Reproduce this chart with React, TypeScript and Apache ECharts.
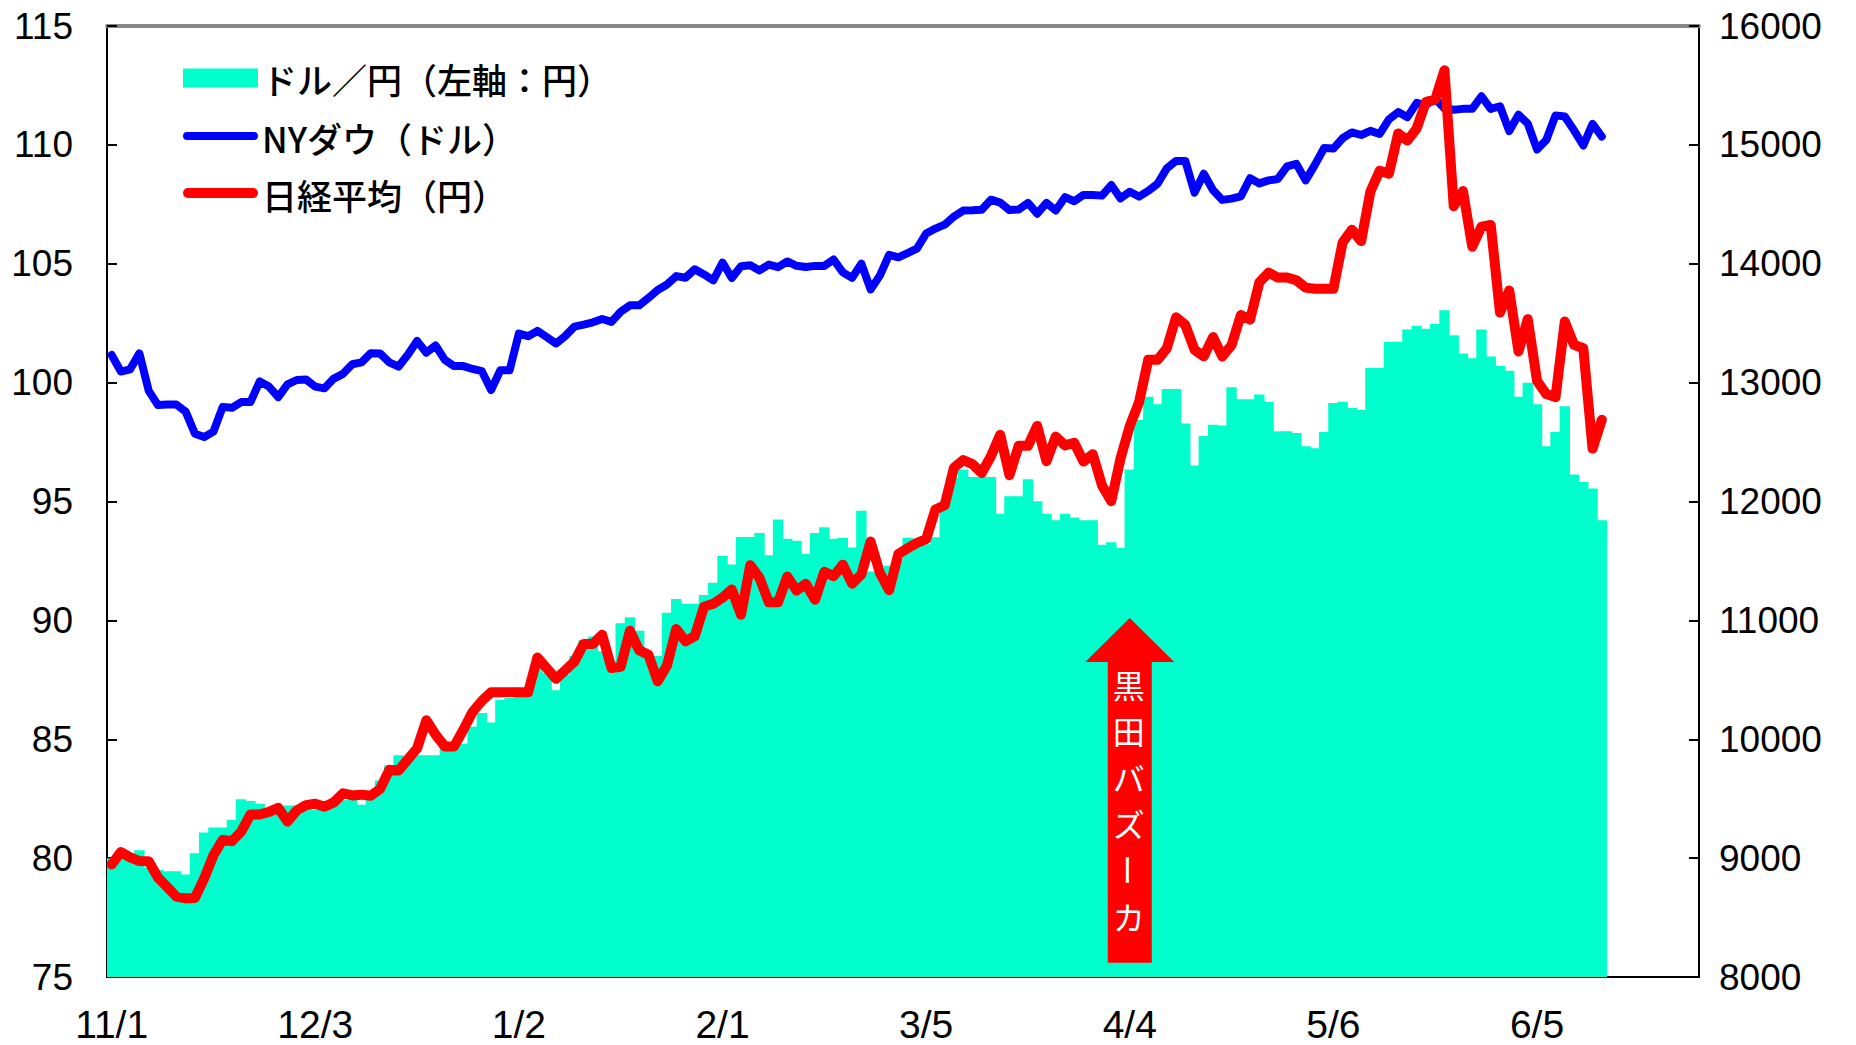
import React, { useEffect, useRef } from "react";
import * as echarts from "echarts";

// ---- x axis: one slot per weekday (Nov 1 2012 .. Jun 28 2013), label every 22 slots
const xTickLabels = ["11/1", "12/3", "1/2", "2/1", "3/5", "4/4", "5/6", "6/5"];
const LABEL_EVERY = 22;
const SLOT_COUNT = 172;

// ---- series names
const seriesNames = ["ドル／円（左軸：円）", "NYダウ（ドル）", "日経平均（円）"];

// ---- USD/JPY (left axis, yen)
const usdJpy = [
  80.0, 80.2, 80.2, 80.33, 79.6, 79.5, 79.45, 79.45, 79.31, 80.2,
  81.08, 81.29, 81.29, 81.6, 82.48, 82.4, 82.29, 82.05, 82.05, 82.21,
  82.21, 82.21, 82.05, 82.05, 82.45, 82.45, 82.45, 82.24, 82.7, 83.26,
  83.9, 84.33, 84.3, 84.33, 84.33, 84.33, 84.81, 84.81, 84.81, 85.53,
  86.1, 85.7, 86.66, 86.74, 87.15, 87.1, 88.0, 87.8, 87.06, 87.71,
  88.51, 89.16, 89.32, 88.7, 88.3, 89.88, 90.13, 89.56, 88.51, 88.51,
  90.32, 90.9, 90.7, 90.7, 91.07, 91.58, 92.71, 92.35, 93.51, 93.51,
  93.67, 92.74, 94.24, 93.43, 93.35, 92.79, 93.67, 93.92, 93.43, 93.48,
  93.06, 94.61, 92.06, 92.06, 92.3, 92.5, 93.48, 93.4, 93.2, 93.5,
  94.7, 96.0, 96.35, 96.03, 96.03, 96.03, 94.49, 95.22, 95.22, 95.94,
  95.01, 94.49, 94.21, 94.49, 94.33, 94.21, 94.21, 93.18, 93.29, 93.05,
  96.35, 98.44, 99.41, 99.09, 99.73, 99.73, 98.28, 96.51, 97.75, 98.23,
  98.2, 99.81, 99.3, 99.3, 99.5, 99.2, 97.96, 97.96, 97.88, 97.32,
  97.24, 97.92, 99.14, 99.2, 98.93, 98.85, 100.62, 100.62, 101.72, 101.72,
  102.23, 102.39, 102.27, 102.47, 103.04, 101.99, 101.23, 101.03, 102.23, 101.1,
  100.7, 100.5, 99.41, 100.0, 99.09, 97.32, 97.92, 99.01, 96.14, 95.82,
  95.55, 94.21,
];

// ---- NY Dow (right axis, dollars)
const nyDow = [
  13232, 13093, 13112, 13246, 12933, 12811, 12815, 12815, 12756, 12570,
  12542, 12588, 12796, 12788, 12836, 12836, 13010, 12967, 12878, 12985,
  13022, 13026, 12966, 12952, 13034, 13074, 13155, 13170, 13248, 13245,
  13171, 13135, 13235, 13351, 13252, 13312, 13191, 13139, 13139, 13115,
  13096, 12938, 13104, 13104, 13413, 13391, 13435, 13384, 13329, 13391,
  13471, 13488, 13507, 13535, 13511, 13596, 13650, 13650, 13712, 13779,
  13825, 13896, 13882, 13954, 13910, 13861, 14010, 13880, 13979, 13987,
  13944, 13993, 13971, 14019, 13983, 13973, 13982, 13982, 14036, 13928,
  13881, 14001, 13784, 13900, 14075, 14054, 14090, 14128, 14254, 14296,
  14329, 14397, 14447, 14450, 14455, 14539, 14514, 14452, 14456, 14512,
  14421, 14512, 14448, 14560, 14526, 14579, 14579, 14573, 14662, 14550,
  14606, 14565, 14613, 14673, 14802, 14865, 14865, 14599, 14757, 14619,
  14537, 14548, 14567, 14719, 14676, 14701, 14713, 14819, 14840, 14701,
  14832, 14974, 14969, 15056, 15105, 15083, 15118, 15092, 15215, 15276,
  15233, 15354, 15335, 15388, 15307, 15295, 15303, 15303, 15409, 15303,
  15325, 15116, 15254, 15178, 14961, 15041, 15248, 15239, 15122, 14995,
  15176, 15070,
];

// ---- Nikkei 225 (right axis, yen)
const nikkei = [
  8947, 9051, 9007, 8975, 8973, 8837, 8758, 8676, 8661, 8665,
  8830, 9024, 9153, 9143, 9223, 9367, 9367, 9389, 9423, 9308,
  9401, 9446, 9458, 9432, 9469, 9545, 9527, 9534, 9525, 9581,
  9743, 9738, 9829, 9923, 10160, 10039, 9940, 9940, 10080, 10230,
  10323, 10395, 10395, 10395, 10395, 10395, 10688, 10599, 10508, 10579,
  10653, 10802, 10802, 10879, 10600, 10610, 10913, 10748, 10710, 10487,
  10621, 10927, 10824, 10867, 11114, 11139, 11191, 11260, 11047, 11464,
  11357, 11153, 11153, 11369, 11251, 11307, 11174, 11408, 11372, 11468,
  11309, 11386, 11663, 11399, 11254, 11559, 11606, 11652, 11683, 11932,
  11968, 12284, 12349, 12315, 12240, 12381, 12561, 12221, 12468, 12468,
  12636, 12339, 12546, 12472, 12494, 12336, 12398, 12135, 12003, 12362,
  12635, 12834, 13193, 13192, 13288, 13549, 13485, 13276, 13221, 13383,
  13220, 13316, 13568, 13530, 13843, 13926, 13884, 13884, 13861, 13799,
  13790, 13790, 13790, 14180, 14286, 14191, 14608, 14782, 14758, 15096,
  15037, 15138, 15361, 15381, 15627, 14484, 14612, 14143, 14312, 14326,
  13589, 13775, 13262, 13534, 13015, 12904, 12878, 13514, 13318, 13289,
  12445, 12687,
];

// ---- axes
const leftAxis = { min: 75, max: 115, interval: 5 };
const rightAxis = { min: 8000, max: 16000, interval: 1000 };

// ---- annotation
const annotationText = "黒田バズーカ";
const annotationIndex = 110;
const arrowTipValue = 90.1;
const arrowBaseValue = 88.25;
const arrowBottomValue = 75.6;

const COLORS = { bar: "#00FFCC", dow: "#0000FF", nikkei: "#FF0000" };
const AXIS_FONT = "'Liberation Sans', Arial, sans-serif";
const JP_FONT = "'Noto Sans CJK JP', 'Noto Sans', sans-serif";

export default function App() {
  const ref = useRef<HTMLDivElement>(null);

  useEffect(() => {
    const chart = echarts.init(ref.current as HTMLDivElement, null, { renderer: "svg" });
    const categories = Array.from({ length: SLOT_COUNT }, (_, i) => String(i));

    chart.setOption({
      animation: false,
      backgroundColor: "#ffffff",
      grid: { left: 107, right: 157, top: 26, bottom: 68, containLabel: false },
      xAxis: [
        {
          type: "category",
          data: categories,
          boundaryGap: true,
          position: "bottom",
          axisLine: { show: true, onZero: false, lineStyle: { color: "#000", width: 2 } },
          axisTick: { show: false },
          splitLine: { show: false },
          axisLabel: {
            interval: LABEL_EVERY - 1,
            formatter: (_v: string, idx: number) => xTickLabels[idx / LABEL_EVERY] ?? "",
            fontFamily: AXIS_FONT,
            fontSize: 39,
            lineHeight: 38,
            color: "#000",
            margin: 28,
          },
        },
        {
          type: "category",
          data: categories,
          position: "top",
          axisLine: { show: true, onZero: false, lineStyle: { color: "#888", width: 4 } },
          axisTick: { show: false },
          axisLabel: { show: false },
          splitLine: { show: false },
        },
      ],
      yAxis: [
        {
          type: "value",
          position: "left",
          min: leftAxis.min,
          max: leftAxis.max,
          interval: leftAxis.interval,
          startValue: leftAxis.min,
          axisLine: { show: true, lineStyle: { color: "#000", width: 2 } },
          axisTick: { show: true, inside: true, length: 10, lineStyle: { color: "#000", width: 2 } },
          splitLine: { show: false },
          axisLabel: { fontFamily: AXIS_FONT, fontSize: 37, color: "#000", margin: 34 },
        },
        {
          type: "value",
          position: "right",
          min: rightAxis.min,
          max: rightAxis.max,
          interval: rightAxis.interval,
          axisLine: { show: true, lineStyle: { color: "#000", width: 2 } },
          axisTick: { show: true, inside: true, length: 10, lineStyle: { color: "#000", width: 2 } },
          splitLine: { show: false },
          axisLabel: {
            fontFamily: AXIS_FONT,
            fontSize: 37,
            color: "#000",
            margin: 20,
            formatter: (v: number) => String(v),
          },
        },
      ],
      series: [
        {
          name: seriesNames[0],
          type: "bar",
          xAxisIndex: 0,
          yAxisIndex: 0,
          data: usdJpy,
          barCategoryGap: "0%",
          barWidth: "112%",
          clip: true,
          itemStyle: { color: COLORS.bar },
          z: 1,
        },
        {
          name: seriesNames[1],
          type: "line",
          xAxisIndex: 0,
          yAxisIndex: 1,
          data: nyDow,
          symbol: "none",
          showSymbol: false,
          lineStyle: { color: COLORS.dow, width: 8, join: "round", cap: "round" },
          itemStyle: { color: COLORS.dow },
          z: 3,
        },
        {
          name: seriesNames[2],
          type: "line",
          xAxisIndex: 0,
          yAxisIndex: 1,
          data: nikkei,
          symbol: "none",
          showSymbol: false,
          lineStyle: { color: COLORS.nikkei, width: 10, join: "round", cap: "round" },
          itemStyle: { color: COLORS.nikkei },
          z: 4,
        },
      ],
    });

    // annotation arrow positioned through the axes
    const ax = chart.convertToPixel({ xAxisIndex: 0 }, annotationIndex) as number;
    const yTip = chart.convertToPixel({ yAxisIndex: 0 }, arrowTipValue) as number;
    const yBase = chart.convertToPixel({ yAxisIndex: 0 }, arrowBaseValue) as number;
    const yBottom = chart.convertToPixel({ yAxisIndex: 0 }, arrowBottomValue) as number;
    const headHalf = 44.5;
    const shaftHalf = 22;

    const chars = annotationText.split("");
    const charEls = chars.map((ch, k) => ({
      type: "text",
      x: ax - 1,
      y: yBase + 22 + k * 46.5,
      rotation: ch === "ー" ? -Math.PI / 2 : 0,
      z: 20,
      style: {
        text: ch,
        fill: "#ffffff",
        font: `32px ${JP_FONT}`,
        lineHeight: 32,
        align: "center",
        verticalAlign: "middle",
        textAlign: "center",
        textVerticalAlign: "middle",
      },
    }));

    const legendX = 183;
    const legendTextX = 262;
    const legendRows = [78, 137, 194];

    chart.setOption({
      graphic: [
        {
          type: "polygon",
          z: 10,
          shape: {
            points: [
              [ax, yTip],
              [ax + headHalf, yBase],
              [ax + shaftHalf, yBase],
              [ax + shaftHalf, yBottom],
              [ax - shaftHalf, yBottom],
              [ax - shaftHalf, yBase],
              [ax - headHalf, yBase],
            ],
          },
          style: { fill: "#FF0000" },
        },
        ...charEls,
        {
          type: "rect",
          z: 10,
          shape: { x: legendX, y: legendRows[0] - 9.5, width: 75, height: 19 },
          style: { fill: COLORS.bar },
        },
        {
          type: "line",
          z: 10,
          shape: { x1: legendX + 4, y1: legendRows[1] - 1, x2: legendX + 71, y2: legendRows[1] - 1 },
          style: { stroke: COLORS.dow, lineWidth: 8, lineCap: "round" },
        },
        {
          type: "line",
          z: 10,
          shape: { x1: legendX + 5, y1: legendRows[2] - 1, x2: legendX + 70, y2: legendRows[2] - 1 },
          style: { stroke: COLORS.nikkei, lineWidth: 10, lineCap: "round" },
        },
        ...seriesNames.map((nm, k) => ({
          type: "text",
          z: 10,
          x: legendTextX,
          y: legendRows[k],
          style: {
            text: nm,
            fill: "#000",
            font: `500 35px ${JP_FONT}`,
            verticalAlign: "middle",
            textVerticalAlign: "middle",
          },
        })),
      ],
    });

    return () => {
      chart.dispose();
    };
  }, []);

  return (
    <div
      ref={ref}
      style={{ position: "fixed", left: 0, top: 0, width: 1856, height: 1045, background: "#fff" }}
    />
  );
}
